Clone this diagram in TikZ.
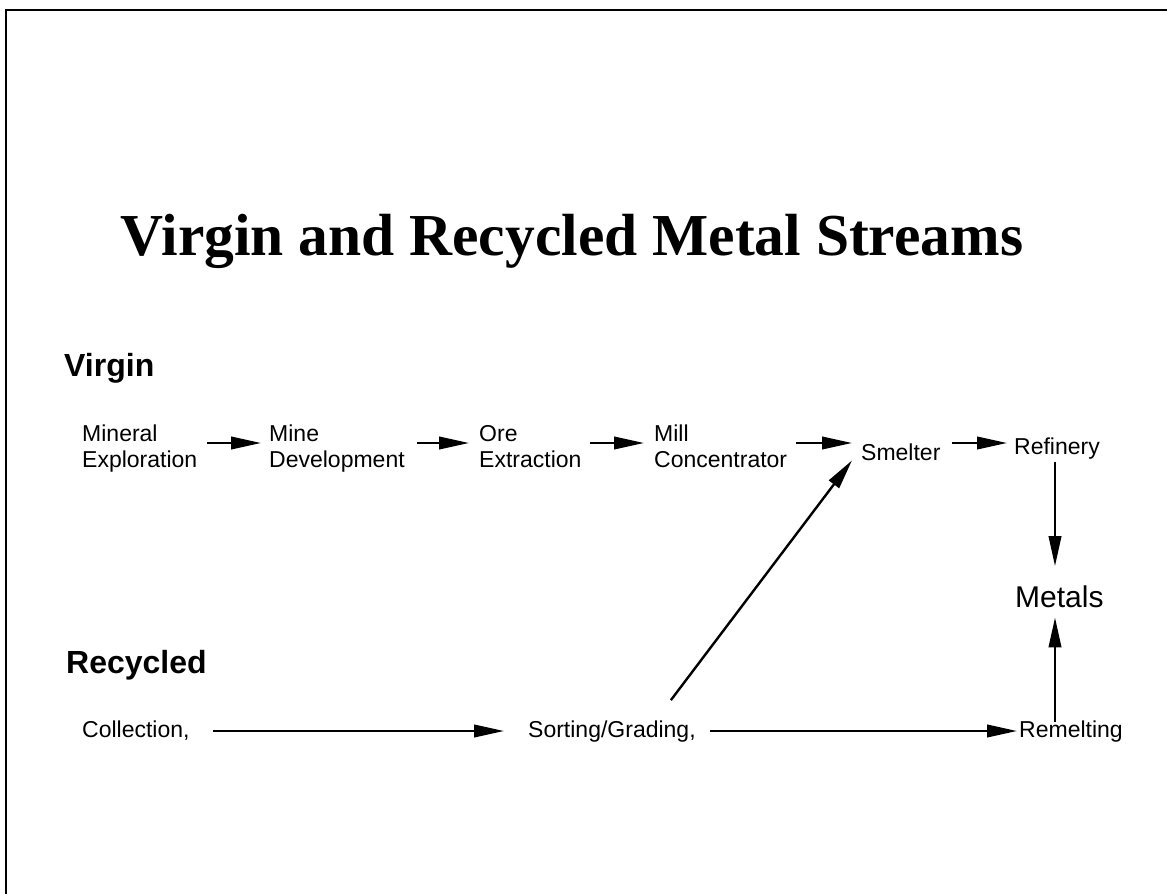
\documentclass[tikz,border=0pt]{standalone}
\usepackage{fontspec}
\setmainfont{Liberation Sans}
\newfontfamily\titlefont{Liberation Serif}
\usetikzlibrary{arrows.meta}
\newcommand{\twolines}[2]{\begin{tabular}[t]{@{}l@{}}#1\\#2\end{tabular}}
\begin{document}
\begin{tikzpicture}[x=1bp,y=-1bp,
  lbl/.style={inner sep=0pt, anchor=base west, font=\fontsize{23bp}{26bp}\selectfont},
  head/.style={inner sep=0pt, anchor=base west, font=\fontsize{32bp}{36bp}\selectfont\bfseries},
  arr/.style={line width=2.4bp, -{Triangle[length=30bp,width=12.5bp]}},
  frame/.style={line width=2.5bp}]
\useasboundingbox (0,0) rectangle (1167,894);
\draw[frame] (6,894) -- (6,10) -- (1167,10);
\node[inner sep=0pt, anchor=base, font=\titlefont\fontsize{59.5bp}{66bp}\selectfont\bfseries] (title) at (572,255) {Virgin and Recycled Metal Streams};
\node[head] (virgin) at (64,376) {Virgin};
\node[head] (recycled) at (66,673) {Recycled};
% virgin row
\node[lbl] (mineral) at (82,441) {\twolines{Mineral}{Exploration}};
\node[lbl] (mine) at (269,441) {\twolines{Mine}{Development}};
\node[lbl] (ore) at (479,441) {\twolines{Ore}{Extraction}};
\node[lbl] (mill) at (654,441) {\twolines{Mill}{Concentrator}};
\node[lbl] (smelter) at (861,460) {Smelter};
\node[lbl] (refinery) at (1014,454) {Refinery};
\node[inner sep=0pt, anchor=base west, font=\fontsize{30bp}{34bp}\selectfont] (metals) at (1015,607) {Metals};
% recycled row
\node[lbl] (collection) at (82,737) {Collection,};
\node[lbl] (sorting) at (528,737) {Sorting/Grading,};
\node[lbl] (remelting) at (1019,737) {Remelting};
% guide coordinates
\coordinate (yv) at (0,443);
\coordinate (yr) at (0,731);
\coordinate (vx) at (1055,0);
% virgin arrows
\draw[arr] ([xshift=10bp]mineral.east |- yv) -- ([xshift=-8bp]mine.west |- yv);
\draw[arr] ([xshift=12bp]mine.east |- yv) -- ([xshift=-10bp]ore.west |- yv);
\draw[arr] ([xshift=8bp]ore.east |- yv) -- ([xshift=-10bp]mill.west |- yv);
\draw[arr] ([xshift=9bp]mill.east |- yv) -- ([xshift=-9bp]smelter.west |- yv);
\draw[arr] ([xshift=11bp]smelter.east |- yv) -- ([xshift=-7bp]refinery.west |- yv);
\draw[arr] (refinery.south -| vx) ++(0,3) -- ([yshift=19bp]metals.north -| vx);
% recycled arrows
\draw[arr] ([xshift=23bp]collection.east |- yr) -- ([xshift=-24bp]sorting.west |- yr);
\draw[arr] ([xshift=14bp]sorting.east |- yr) -- ([xshift=-2bp]remelting.west |- yr);
\draw[arr] ([yshift=-2bp]remelting.north -| vx) -- ([yshift=-10bp]metals.south -| vx);
\draw[arr] ([xshift=-25bp,yshift=20bp]sorting.north east) -- ([xshift=-9bp]smelter.south west);
\end{tikzpicture}
\end{document}
